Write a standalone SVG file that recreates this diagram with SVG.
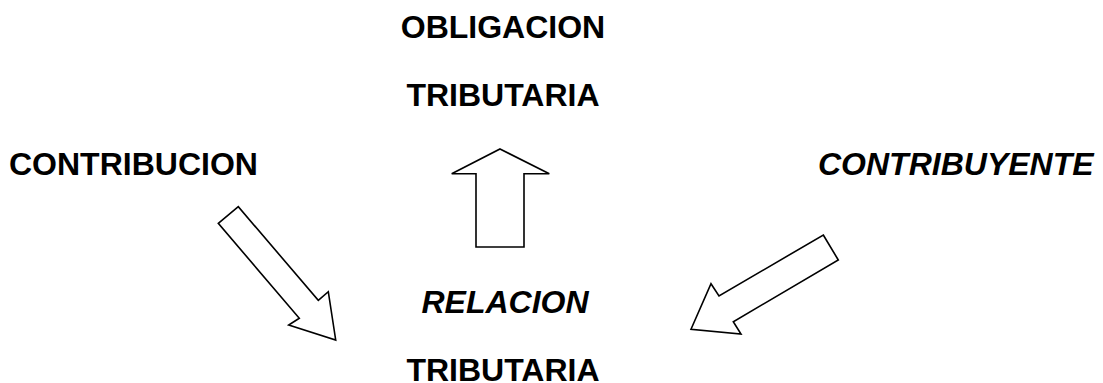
<svg xmlns="http://www.w3.org/2000/svg" width="1103" height="383" viewBox="0 0 1103 383">
<style>
.t{font-family:"Liberation Sans",Arial,sans-serif;font-weight:bold;font-size:32px;fill:#000}
.i{font-style:italic}
.a{fill:#fff;stroke:#000;stroke-width:1.6;stroke-linejoin:miter}
</style>
<rect width="1103" height="383" fill="#fff"/>
<g id="obligacion">
<text class="t" x="503" y="38" text-anchor="middle">OBLIGACION</text>
<text class="t" x="503" y="106" text-anchor="middle">TRIBUTARIA</text>
</g>
<g id="contribucion">
<text class="t" x="9" y="175">CONTRIBUCION</text>
</g>
<g id="contribuyente">
<text class="t i" x="818" y="175">CONTRIBUYENTE</text>
</g>
<g id="relacion">
<text class="t i" x="505" y="313" text-anchor="middle">RELACION</text>
<text class="t" x="503" y="381" text-anchor="middle">TRIBUTARIA</text>
</g>
<g id="connectors">
<polygon class="a" points="500,149 549.3,173.7 524,173.7 524,247 476,247 476,173.7 451.7,173.7"/>
<polygon class="a" points="238.3,206.7 218.3,223.3 299.3,318.3 288.7,325 335.7,340 328.3,291.7 318.3,300.3"/>
<polygon class="a" points="823.3,235 838.3,260 733.3,321.7 741,334 691,329.3 711,283.7 719,296"/>
</g>
</svg>
